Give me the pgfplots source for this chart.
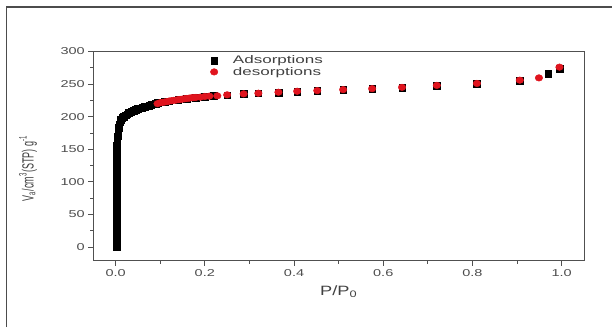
\documentclass[border=0pt]{standalone}
\usepackage{fontspec}
\setmainfont{Liberation Sans}
\newfontfamily\tickfont[FakeStretch=1.45]{Liberation Sans}
\newfontfamily\legfont[FakeStretch=1.55]{Liberation Sans}
\newfontfamily\labfont[FakeStretch=1.35]{Liberation Sans}
\usepackage{pgfplots}
\pgfplotsset{compat=1.18}
\definecolor{axgray}{HTML}{505050}
\definecolor{dred}{HTML}{E0141E}
\pgfplotstableread{
x y
0.002 0
0.002 5
0.002 10
0.002 15
0.002 20
0.002 25
0.002 30
0.002 35
0.002 40
0.002 45
0.002 50
0.002 55
0.002 60
0.002 65
0.002 70
0.002 75
0.002 80
0.002 85
0.002 90
0.002 95
0.002 100
0.002 105
0.002 110
0.002 115
0.002 120
0.002 125
0.002 130
0.002 135
0.002 140
0.002 145
0.002 150
0.003 155
0.004 162
0.005 170
0.006 177
0.007 183
0.008 188
0.010 192
0.012 195
0.015 198
0.018 200
0.022 202
0.026 204
0.030 206
0.035 208
0.040 209
0.045 211
0.050 212
0.055 213
0.060 214
0.065 215
0.070 216
0.075 217
0.080 218
0.085 219
0.090 220
0.095 221
0.100 222
0.110 223
0.120 224
0.140 226
0.160 228
0.180 229
0.200 231
0.220 232
0.250 233
0.287 235
0.320 236
0.365 237
0.407 238.5
0.452 240
0.510 241
0.575 243
0.642 244.5
0.720 247.5
0.810 250.5
0.906 255
0.970 266
0.995 274
}\adsdata
\pgfplotstableread{
x y
0.094 220
0.100 221.5
0.105 222
0.110 222.5
0.115 223
0.120 224
0.125 224.5
0.130 225
0.135 225.5
0.140 226
0.145 226.5
0.150 227
0.155 227.5
0.160 228
0.165 228.5
0.170 229
0.175 229.3
0.180 229.6
0.190 230
0.200 231
0.210 231.5
0.228 232
0.250 233.5
0.287 235
0.320 236
0.365 237.5
0.407 239
0.452 240
0.510 241.5
0.575 243
0.642 245
0.720 248
0.810 251
0.906 256
0.949 259.5
0.995 276
}\desdata
\begin{document}
\begin{tikzpicture}
\path[use as bounding box] (0,0) rectangle (612pt,327pt);
\draw[line width=1.5pt, color=black!70] (6.5pt,0pt) -- (6.5pt,320pt) -- (612pt,320pt);
\begin{axis}[
  at={(93.3pt,66.3pt)}, anchor=south west,
  scale only axis, width=490.7pt, height=209.2pt,
  xmin=-0.05, xmax=1.05, ymin=-21, ymax=300,
  xtick={0,0.2,0.4,0.6,0.8,1.0},
  ytick={0,50,100,150,200,250,300},
  minor x tick num=1, minor y tick num=1,
  tick pos=left, tick align=outside,
  major tick length=5pt, minor tick length=3pt,
  axis line style={axgray, line width=1pt},
  every tick/.style={axgray, line width=0.8pt},
  /pgf/number format/assume math mode=true,
  x tick label style={font=\tickfont\fontsize{10}{12}\selectfont, text=black!70, /pgf/number format/.cd, fixed, fixed zerofill, precision=1},
  y tick label style={font=\tickfont\fontsize{10}{12}\selectfont, text=black!70},
  xlabel={P/P\textsubscript{0}},
  xlabel style={font=\labfont\fontsize{13.5}{15}\selectfont, text=black!75, at={(axis description cs:0.5,0)}, anchor=center, yshift=-31pt},
  ylabel={\scalebox{1}[1.8]{V\textsubscript{a}/cm\textsuperscript{3}(STP) g\textsuperscript{-1}}},
  ylabel style={font=\fontsize{9}{11}\selectfont, text=black!75, at={(axis description cs:-0.133,0.44)}, anchor=center, rotate=0},
  legend style={draw=none, fill=none, at={(axis description cs:0.232,1.0)}, anchor=north west, font=\legfont\fontsize{11}{13}\selectfont, text=black!75, row sep=-2pt},
  legend cell align=left,
]
\addplot[only marks, mark=square*, mark size=3.3pt, mark options={black, fill=black}] table[x=x,y=y] {\adsdata};
\addlegendentry{\hspace{13pt}Adsorptions}
\addplot[only marks, mark=*, mark size=3.3pt, mark options={dred, fill=dred, xscale=1.15}] table[x=x,y=y] {\desdata};
\addlegendentry{\hspace{13pt}desorptions}
\end{axis}
\end{tikzpicture}
\end{document}
